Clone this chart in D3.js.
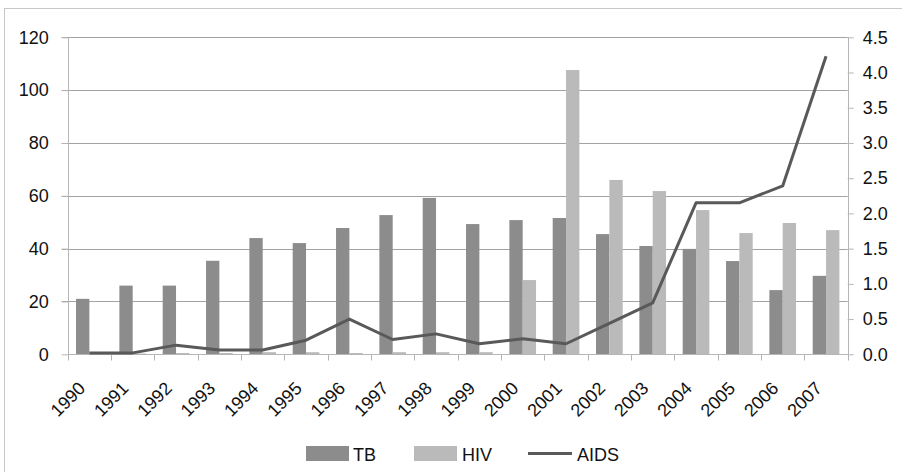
<!DOCTYPE html>
<html><head><meta charset="utf-8">
<script src="https://cdn.jsdelivr.net/npm/d3@7"></script>
<style>body{margin:0;background:#fff;}svg{display:block;font-family:"Liberation Sans",Arial,Helvetica,sans-serif;}</style>
</head><body>
<svg id="c" width="902" height="472"></svg>
<script>
const years = ["1990","1991","1992","1993","1994","1995","1996","1997","1998","1999","2000","2001","2002","2003","2004","2005","2006","2007"];
const tb   = [21, 26, 26, 35.4, 44, 42.1, 47.8, 52.7, 59.2, 49.3, 50.8, 51.6, 45.5, 41, 39.9, 35.3, 24.3, 29.7];
const hiv  = [0.3, 0.3, 0.5, 0.5, 0.8, 0.8, 0.5, 0.8, 0.8, 0.8, 28.1, 107.6, 66, 61.8, 54.6, 45.9, 49.7, 47];
const aids = [0.02, 0.02, 0.13, 0.06, 0.06, 0.2, 0.5, 0.21, 0.29, 0.15, 0.22, 0.15, 0.44, 0.73, 2.15, 2.15, 2.39, 4.23];
const leftTicks = [0, 20, 40, 60, 80, 100, 120];
const rightTicks = [0, 0.5, 1, 1.5, 2, 2.5, 3, 3.5, 4, 4.5];
const seriesNames = ["TB", "HIV", "AIDS"];

const FS = 18;
const svg = d3.select("#c");
const L = 67.7, R = 847.7, T = 37.3, B = 354.3;
const cTB = "#8c8c8c", cHIV = "#bababa", cAIDS = "#595959";

svg.append("rect").attr("x", 4.5).attr("y", 8.5).attr("width", 1000).attr("height", 1000)
  .attr("fill", "none").attr("stroke", "#c8c8c8").attr("stroke-width", 1);

const x = d3.scaleBand().domain(years).range([L, R]).paddingInner(0).paddingOuter(0);
const yL = d3.scaleLinear().domain([0, 120]).range([B, T]);
const yR = d3.scaleLinear().domain([0, 4.5]).range([B, T]);

// gridlines
svg.append("g").selectAll("line").data(leftTicks.filter(d => d > 0)).join("line")
  .attr("x1", L - 6).attr("x2", R).attr("y1", d => Math.round(yL(d)) + 0.5).attr("y2", d => Math.round(yL(d)) + 0.5)
  .attr("stroke", "#a3a3a3").attr("stroke-width", 1);

// left axis
const gl = svg.append("g").attr("transform", `translate(${L},0)`)
  .call(d3.axisLeft(yL).tickValues(leftTicks).tickSize(6).tickPadding(13).tickFormat(d3.format("d")));
gl.select(".domain").remove();
gl.selectAll(".tick line").attr("stroke", "#b5b5b5");
gl.selectAll(".tick text").attr("font-size", FS).attr("fill", "#111").attr("font-family", "Liberation Sans, Arial, sans-serif");
svg.append("line").attr("x1", Math.round(L)+0.5).attr("x2", Math.round(L)+0.5).attr("y1", T).attr("y2", B)
  .attr("stroke", "#b5b5b5");

// right axis
const gr = svg.append("g").attr("transform", `translate(${R},0)`)
  .call(d3.axisRight(yR).tickValues(rightTicks).tickSize(6).tickPadding(9).tickFormat(d3.format(".1f")));
gr.select(".domain").remove();
gr.selectAll(".tick line").attr("stroke", "#b5b5b5");
gr.selectAll(".tick text").attr("font-size", FS).attr("fill", "#111").attr("font-family", "Liberation Sans, Arial, sans-serif");
svg.append("line").attr("x1", Math.round(R)+0.5).attr("x2", Math.round(R)+0.5).attr("y1", T).attr("y2", B)
  .attr("stroke", "#b5b5b5");

// bars
const bw = x.bandwidth() / 3.25;
const gb = svg.append("g");
gb.selectAll("rect.tb").data(years).join("rect").attr("class", "tb")
  .attr("x", d => x(d) + x.bandwidth()/2 - bw).attr("width", bw)
  .attr("y", (d, i) => yL(tb[i])).attr("height", (d, i) => yL(0) - yL(tb[i])).attr("fill", cTB);
gb.selectAll("rect.hiv").data(years).join("rect").attr("class", "hiv")
  .attr("x", d => x(d) + x.bandwidth()/2).attr("width", bw)
  .attr("y", (d, i) => yL(hiv[i])).attr("height", (d, i) => yL(0) - yL(hiv[i])).attr("fill", cHIV);

// bottom axis
svg.append("line").attr("x1", L).attr("x2", R).attr("y1", Math.round(B)+0.5).attr("y2", Math.round(B)+0.5).attr("stroke", "#b5b5b5");
const gx = svg.append("g").attr("transform", `translate(0,${Math.round(B)+0.5})`);
const edges = years.map(d => x(d)).concat([R]);
gx.selectAll("line").data(edges).join("line")
  .attr("x1", d => Math.round(d)+0.5).attr("x2", d => Math.round(d)+0.5).attr("y1", 0).attr("y2", 6).attr("stroke", "#b5b5b5");
gx.selectAll("text").data(years).join("text")
  .attr("transform", d => `translate(${x(d) + x.bandwidth()/2 - 3},${35}) rotate(-45)`)
  .attr("text-anchor", "end").attr("font-size", FS).attr("fill", "#111")
  .text(d => d);

// line
const line = d3.line().x((d, i) => x(years[i]) + x.bandwidth()/2).y(d => yR(d));
svg.append("path").datum(aids).attr("d", line).attr("fill", "none").attr("stroke", cAIDS)
  .attr("stroke-width", 3).attr("stroke-linejoin", "round");

// legend
const lg = svg.append("g");
lg.append("rect").attr("x", 306).attr("y", 446).attr("width", 43).attr("height", 15).attr("fill", cTB);
lg.append("text").attr("x", 353).attr("y", 460.5).attr("font-size", FS).attr("fill", "#111").text(seriesNames[0]);
lg.append("rect").attr("x", 414).attr("y", 446).attr("width", 43).attr("height", 15).attr("fill", cHIV);
lg.append("text").attr("x", 462).attr("y", 460.5).attr("font-size", FS).attr("fill", "#111").text(seriesNames[1]);
lg.append("line").attr("x1", 528).attr("x2", 572).attr("y1", 453.5).attr("y2", 453.5).attr("stroke", cAIDS).attr("stroke-width", 3);
lg.append("text").attr("x", 577).attr("y", 460.5).attr("font-size", FS).attr("fill", "#111").text(seriesNames[2]);
</script>
</body></html>
